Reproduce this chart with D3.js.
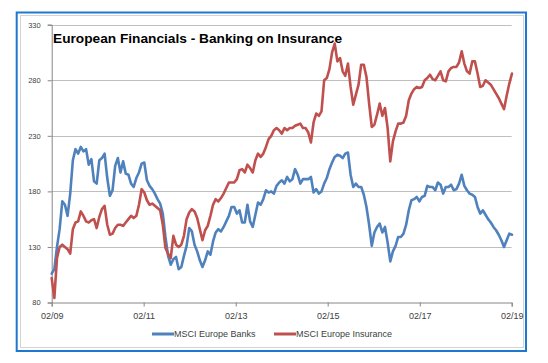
<!DOCTYPE html>
<html>
<head>
<meta charset="utf-8">
<script src="https://cdn.jsdelivr.net/npm/d3@7"></script>
<style>
  html, body { margin: 0; padding: 0; background: #ffffff; }
  svg { display: block; }
</style>
</head>
<body>
<svg id="chart" width="548" height="363"></svg>
<script>
// ---- Data ----
const title = "European Financials - Banking on Insurance";
const seriesNames = ["MSCI Europe Banks", "MSCI Europe Insurance"];
const seriesColors = ["#4F81BD", "#C0504D"];
const startDate = "2009-02-01";   // first observation
const stepDays = 21;              // observations every 3 weeks
const yTicks = [80, 130, 180, 230, 280, 330];
const xTickLabels = ["02/09", "02/11", "02/13", "02/15", "02/17", "02/19"];
const xTickDates = ["2009-02-01", "2011-02-01", "2013-02-01", "2015-02-01", "2017-02-01", "2019-02-01"];

const banks = [
  106,110,130,146,171,168,158,178,208,218,214,220,216,218,204,209,189,187,208,210,
  214,192,176,181,203,210,197,207,196,195,187,184,192,197,205,206,190,185,182,178,
  173,169,160,139,122,114,119,121,110,112,122,131,147,144,132,126,118,112,118,126,
  123,135,143,146,144,148,153,158,166,166,160,163,152,152,168,153,148,159,170,168,
  173,181,179,180,178,185,188,190,187,193,189,191,200,195,187,191,191,191,193,179,
  182,178,180,187,192,200,206,211,213,212,210,214,215,195,184,187,184,184,177,166,
  150,131,143,148,151,143,148,134,117,126,131,139,139,142,150,163,172,173,175,171,
  175,176,185,184,184,181,188,186,178,184,184,186,181,182,187,195,185,181,178,177,
  175,166,160,163,159,155,152,148,145,141,136,130,136,142,141
];

const insurance = [
  102,84,120,130,132,130,128,124,146,152,153,162,158,153,152,154,155,147,157,164,
  167,150,141,142,147,150,150,149,152,155,158,156,158,168,182,179,172,168,169,167,
  165,163,150,129,124,120,140,132,130,132,140,155,161,164,162,156,146,136,145,149,
  158,168,173,171,174,178,183,188,188,188,191,199,200,197,204,201,197,208,214,211,
  214,220,227,230,235,237,235,232,237,235,237,237,239,240,241,237,237,233,224,242,
  250,248,252,280,282,290,305,313,297,300,288,284,295,274,258,267,276,294,294,283,
  259,238,240,249,259,248,255,237,207,225,234,241,241,242,248,262,268,272,274,273,
  274,280,282,285,281,280,284,288,280,279,288,291,292,292,296,306,295,288,286,297,
  297,286,274,275,280,278,276,272,268,264,259,254,266,277,286
];

// ---- Layout ----
const svg = d3.select("#chart");
const plot = { left: 51.7, right: 511.7, top: 24.7, bottom: 302.5 };
const parse = d3.utcParse("%Y-%m-%d");
const t0 = parse(startDate);

const dates = banks.map((_, i) => d3.utcDay.offset(t0, stepDays * i));

const x = d3.scaleUtc()
  .domain([parse(xTickDates[0]), parse(xTickDates[xTickDates.length - 1])])
  .range([plot.left, plot.right]);
const y = d3.scaleLinear()
  .domain([yTicks[0], yTicks[yTicks.length - 1]])
  .range([plot.bottom, plot.top]);

// frames
svg.append("rect").attr("x", 16.7).attr("y", 12.5).attr("width", 509.3).attr("height", 338.5)
  .attr("fill", "#ffffff").attr("stroke", "#1F78CF").attr("stroke-width", 2);
svg.append("rect").attr("x", 20.5).attr("y", 15.5).attr("width", 503).attr("height", 332)
  .attr("fill", "#ffffff").attr("stroke", "#D4D4D4").attr("stroke-width", 1);

// gridlines
svg.append("g").selectAll("line").data(yTicks.slice(1)).join("line")
  .attr("x1", plot.left).attr("x2", plot.right)
  .attr("y1", d => Math.round(y(d)) + 0.5).attr("y2", d => Math.round(y(d)) + 0.5)
  .attr("stroke", "#BFBFBF").attr("stroke-width", 1);

// y axis
const yAxis = d3.axisLeft(y).tickValues(yTicks).tickSize(4).tickPadding(7).tickFormat(d3.format("d"));
const gy = svg.append("g").attr("transform", `translate(${plot.left},0)`).call(yAxis);
gy.select(".domain").attr("stroke", "#868686");
gy.selectAll(".tick line").attr("stroke", "#868686");
gy.selectAll(".tick text").attr("fill", "#404040")
  .style("font-family", "'Liberation Sans', Arial, sans-serif").style("font-size", "7.5px");

// x axis
const xAxis = d3.axisBottom(x)
  .tickValues(xTickDates.map(parse))
  .tickSize(4).tickPadding(6)
  .tickFormat((d, i) => xTickLabels[i]);
const gx = svg.append("g").attr("transform", `translate(0,${plot.bottom})`).call(xAxis);
gx.select(".domain").attr("stroke", "#868686");
gx.selectAll(".tick line").attr("stroke", "#868686");
gx.selectAll(".tick text").attr("fill", "#404040")
  .style("font-family", "'Liberation Sans', Arial, sans-serif").style("font-size", "9px");

// lines
const line = d3.line().x((d, i) => x(dates[i])).y(d => y(d));
[banks, insurance].forEach((vals, k) => {
  svg.append("path").datum(vals)
    .attr("d", line)
    .attr("fill", "none")
    .attr("stroke", seriesColors[k])
    .attr("stroke-width", 2.6)
    .attr("stroke-linejoin", "round")
    .attr("stroke-linecap", "round");
});

// title
svg.append("text").attr("x", 53).attr("y", 42.5)
  .style("font-family", "'Liberation Sans', Arial, sans-serif")
  .style("font-size", "13.7px").style("font-weight", "bold")
  .attr("fill", "#000000").text(title);

// legend
const legendX = [152, 274];
const lg = svg.append("g");
seriesNames.forEach((name, k) => {
  lg.append("line").attr("x1", legendX[k]).attr("x2", legendX[k] + 22)
    .attr("y1", 334).attr("y2", 334)
    .attr("stroke", seriesColors[k]).attr("stroke-width", 3);
  lg.append("text").attr("x", legendX[k] + 22).attr("y", 337.2)
    .style("font-family", "'Liberation Sans', Arial, sans-serif").style("font-size", "9px")
    .attr("fill", "#404040").text(name);
});
</script>
</body>
</html>
